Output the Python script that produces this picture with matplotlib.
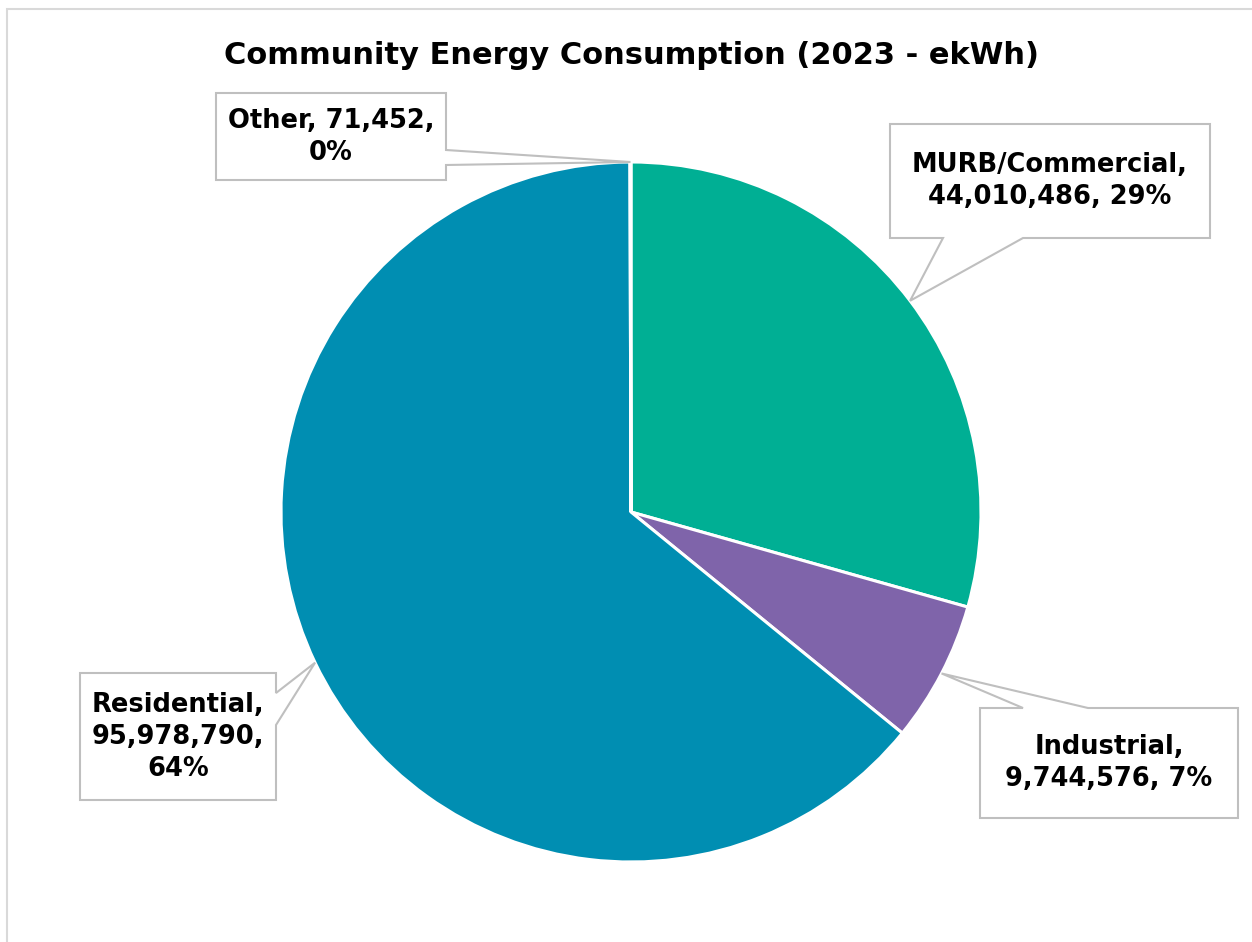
import numpy as np
import matplotlib.pyplot as plt
from matplotlib.patches import Polygon, Rectangle

categories = ["MURB/Commercial", "Industrial", "Residential", "Other"]
values = [44010486, 9744576, 95978790, 71452]
colors = ["#00AF94", "#7F64AA", "#008EB2", "#A5A5A5"]
title = "Community Energy Consumption (2023 - ekWh)"

W, H = 1252, 942
fig = plt.figure(figsize=(W / 100, H / 100), dpi=100)
ax = fig.add_axes([0, 0, 1, 1])

FONT = "DejaVu Sans"


def py(y):
    # pixel row (top down) -> axes y
    return H - y


cx, cy, r = 631, py(512), 350
wedges, _ = ax.pie(values, colors=colors, startangle=90, counterclock=False,
                   center=(cx, cy), radius=r, frame=True,
                   wedgeprops=dict(edgecolor="white", linewidth=2.2))
ax.set_xlim(0, W)
ax.set_ylim(0, H)
ax.set_aspect("equal")
ax.axis("off")

total = sum(values)


def label_text(name, v, lines):
    pct = f"{round(v / total * 100):.0f}%"
    num = f"{v:,}"
    if lines == 3:
        return f"{name},\n{num},\n{pct}"
    if name == "Other":
        return f"{name}, {num},\n{pct}"
    return f"{name},\n{num}, {pct}"


# callout boxes: (left, top, right, bottom) in pixels, side of pointer, pointer base span
boxes = {
    "MURB/Commercial": ((890, 124, 1210, 238), "bottom", (943, 1023), 2),
    "Industrial": ((980, 708, 1238, 818), "top", (1023, 1088), 2),
    "Residential": ((80, 673, 276, 800), "right", (693, 725), 3),
    "Other": ((216, 93, 446, 180), "right", (150, 165), 2),
}

for w, name, v in zip(wedges, categories, values):
    mid = np.deg2rad((w.theta1 + w.theta2) / 2)
    tip = (cx + r * np.cos(mid), cy + r * np.sin(mid))
    (l, t, rr, b), side, (s0, s1), nl = boxes[name]
    t, b = py(t), py(b)
    if side == "bottom":
        pts = [(l, t), (rr, t), (rr, b), (s1, b), tip, (s0, b), (l, b)]
    elif side == "top":
        pts = [(l, t), (s0, t), tip, (s1, t), (rr, t), (rr, b), (l, b)]
    else:  # right
        pts = [(l, t), (rr, t), (rr, py(s0)), tip, (rr, py(s1)), (rr, b), (l, b)]
    ax.add_patch(Polygon(pts, closed=True, facecolor="white", edgecolor="#BFBFBF",
                         linewidth=1.5, zorder=5))
    ax.text((l + rr) / 2, (t + b) / 2, label_text(name, v, nl), ha="center", va="center",
            fontsize=18.5, fontweight="bold", family=FONT, linespacing=1.3, zorder=6)

ax.text(W / 2 + 5, py(55), title, ha="center", va="center", fontsize=22,
        fontweight="bold", family=FONT)

# chart frame
fig.patches.append(Rectangle((7 / W, -0.1), 1.2, 1.1 - 9 / H, transform=fig.transFigure,
                             fill=False, edgecolor="#D9D9D9", linewidth=1.5))

fig.savefig("out.png", dpi=100, facecolor="white")
